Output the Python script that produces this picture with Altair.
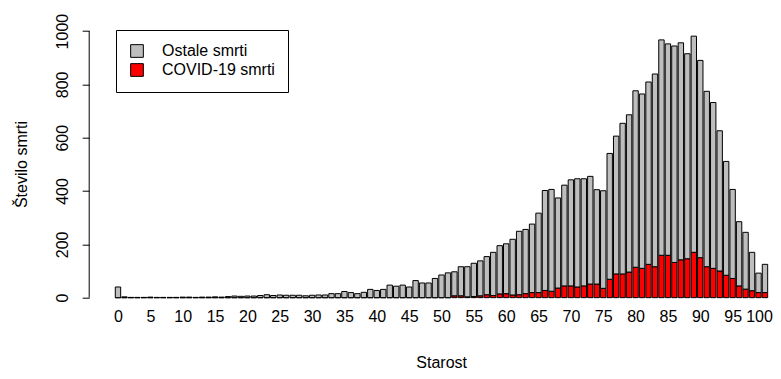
import altair as alt
import pandas as pd

# ---- data ----
ages = list(range(0, 101))
ostale = [40, 3, 1, 1, 1, 2, 1, 1, 1, 1,
          2, 2, 1, 2, 2, 3, 2, 4, 6, 5,
          6, 6, 8, 11, 8, 10, 9, 9, 9, 7,
          9, 10, 10, 15, 15, 23, 19, 15, 20, 31,
          27, 31, 47, 43, 47, 40, 64, 55, 55, 72,
          85, 93, 90, 109, 113, 125, 131, 143, 162, 181,
          187, 209, 238, 241, 257, 298, 375, 382, 338, 378,
          398, 406, 402, 404, 354, 366, 472, 517, 565, 590,
          662, 654, 684, 723, 808, 793, 812, 814, 769, 811,
          740, 658, 622, 526, 427, 334, 241, 213, 144, 73,
          106]
covid = [0, 0, 0, 0, 0, 0, 0, 0, 0, 0,
         0, 0, 0, 0, 0, 0, 0, 0, 0, 0,
         0, 0, 0, 0, 0, 0, 0, 0, 0, 0,
         0, 0, 0, 0, 0, 0, 0, 0, 0, 0,
         0, 0, 0, 0, 0, 0, 0, 0, 0, 0,
         0, 0, 7, 7, 3, 4, 7, 11, 8, 14,
         15, 10, 11, 15, 19, 19, 27, 24, 36, 44,
         44, 40, 44, 51, 51, 35, 69, 89, 89, 96,
         114, 110, 125, 116, 159, 159, 132, 142, 146, 170,
         150, 116, 110, 100, 84, 72, 44, 32, 26, 19,
         19]
series_names = ["Ostale smrti", "COVID-19 smrti"]
series_colors = ["#BEBEBE", "#FF0000"]
x_tick_values = [0, 5, 10, 15, 20, 25, 30, 35, 40, 45, 50,
                 55, 60, 65, 70, 75, 80, 85, 90, 95, 100]
y_tick_values = [0, 200, 400, 600, 800, 1000]

rows = []
for a, o, c in zip(ages, ostale, covid):
    rows.append({"age": a, "type": series_names[1], "ord": 0, "value": c})
    rows.append({"age": a, "type": series_names[0], "ord": 1, "value": o})
df = pd.DataFrame(rows)

FONT = "Liberation Sans"
half = 0.5 / 1.2  # bar width 1, space 0.2 (R barplot)

xscale = alt.Scale(domain=[-4.45, 101.24], nice=False, zero=False)
yscale = alt.Scale(domain=[-39.2, 1020.2], nice=False, zero=False)

bars = alt.Chart(df).transform_stack(
    stack="value", as_=["y0", "y1"], groupby=["age"],
    sort=[alt.SortField("ord", order="ascending")]
).transform_calculate(
    xl=f"datum.age - {half}", xr=f"datum.age + {half}"
).mark_rect(stroke="black", strokeWidth=1).encode(
    x=alt.X("xl:Q", scale=xscale, title="Starost",
            axis=alt.Axis(values=x_tick_values, format="d", ticks=False,
                          domain=False, grid=False, labelFontSize=16,
                          labelPadding=0, labelColor="black",
                          labelOffset={"condition": {"test": "datum.value == 100", "value": -6}, "value": 0},
                          labelFlush=False, labelOverlap=False,
                          titleFontSize=16, titleFontWeight="normal",
                          titleColor="black", titleX=352, titleY=59,
                          titleBaseline="alphabetic", titleAlign="center")),
    x2="xr:Q",
    y=alt.Y("y0:Q", scale=yscale, title="Število smrti",
            axis=alt.Axis(values=y_tick_values, format="d", tickSize=7,
                          tickColor="black", domain=False, grid=False,
                          labelFontSize=16, labelAngle=270,
                          labelAlign="center", labelBaseline="alphabetic",
                          labelPadding=15, labelColor="black",
                          labelFlush=False, labelOverlap=False,
                          titleFontSize=16, titleFontWeight="normal",
                          titleColor="black", titleAngle=270,
                          titleX=-62.5, titleY=138.3,
                          titleAlign="center", titleBaseline="alphabetic")),
    y2="y1:Q",
    fill=alt.Fill("type:N", title=None,
                  scale=alt.Scale(domain=series_names, range=series_colors),
                  legend=alt.Legend(orient="none", legendX=26.8, legendY=4.3,
                                    fillColor="white", strokeColor="black",
                                    padding=13, symbolType="square",
                                    symbolSize=161, symbolStrokeColor="black",
                                    symbolStrokeWidth=1, labelFontSize=16,
                                    labelOffset=17, rowPadding=1,
                                    labelColor="black", labelFont=FONT)),
)

axis_line = alt.Chart(pd.DataFrame({"v": [0]})).mark_rule(
    color="black", strokeWidth=1
).encode(x=alt.value(0), y=alt.datum(0, scale=yscale), y2=alt.datum(1000))

chart = alt.layer(bars, axis_line).properties(
    width=683.8, height=282.4,
    autosize=alt.AutoSizeParams(type="none"),
    padding={"left": 81.2, "top": 17.7, "right": 0, "bottom": 62.9},
).configure(font=FONT).configure_view(stroke=None).configure_axis(grid=False)

chart.save("out.html", embed_options={"renderer": "svg", "actions": False})
